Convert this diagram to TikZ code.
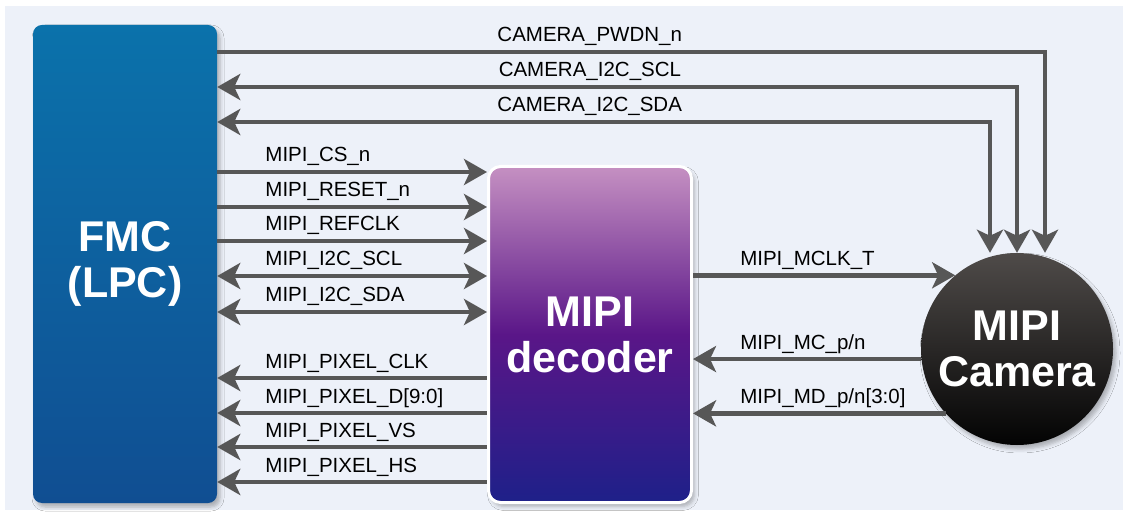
\documentclass[tikz,border=0pt]{standalone}
\usepackage{fontspec}
\setmainfont{Liberation Sans}
\setsansfont{Liberation Sans}
\usetikzlibrary{arrows.meta,calc,shadows.blur}

\definecolor{bgblue}{HTML}{EDF1F9}
\definecolor{wire}{HTML}{575757}
\definecolor{fmctop}{HTML}{0B72AB}
\definecolor{fmcbot}{HTML}{104E92}
\definecolor{dectop}{HTML}{C590C2}
\definecolor{decmid}{HTML}{5A1688}
\definecolor{decbot}{HTML}{1E2089}
\definecolor{camtop}{HTML}{4F4B49}
\definecolor{cambot}{HTML}{030303}

\tikzset{
	>={Stealth[length=23pt, width=26pt, inset=6pt]}
}

\begin{document}
\begin{tikzpicture}[
x = 1pt, y = 1pt,
every node/.style = {
	font = \sffamily
},
block/.style = {
	text = white,
	align = center,
	font = \sffamily\bfseries\fontsize{43}{46}\selectfont,
	blur shadow = {shadow xshift=3pt, shadow yshift=-4pt, shadow blur radius=4pt, shadow opacity=28}
},
sig/.style = {
	draw = wire,
	line width = 4.5pt
},
small/.style = {
	font = \sffamily\fontsize{20.5}{24}\selectfont,
	inner sep = 0pt
}
]

% canvas
\fill[white] (0,0) rectangle (1123,514);
\fill[bgblue] (5,4) rectangle (1123,508);
\useasboundingbox (0,0) rectangle (1123,514);

\node[block, minimum width=184pt, minimum height=478pt, rounded corners=9pt,
	top color=fmctop, bottom color=fmcbot] 						(fmc)	at (125,250)	{FMC\\(LPC)};
\node[block, draw=white, line width=3pt, minimum width=203pt, minimum height=336pt, rounded corners=12pt,
	top color=dectop, bottom color=decbot, middle color=decmid] (dec)	at (590,179.5)	{MIPI\\decoder};
\node[block, circle, inner sep=0pt, minimum size=192pt,
	top color=camtop, bottom color=cambot] 						(cam)	at (1017,165)	{MIPI\\Camera};

% FMC <-> camera
\draw[sig, ->] (fmc.east |- 0,462) -| node[small, pos=0.225, anchor=base, yshift=10pt] (l-pwdn) {CAMERA\_PWDN\_n} ([xshift=28pt]cam.north);
\draw[sig, <->] (fmc.east |- 0,427) -| node[small, pos=0.233, anchor=base, yshift=10pt] (l-scl) {CAMERA\_I2C\_SCL} (cam.north);
\draw[sig, <->] (fmc.east |- 0,392) -| node[small, pos=0.241, anchor=base, yshift=10pt] (l-sda) {CAMERA\_I2C\_SDA} ([xshift=-27pt]cam.north);

% FMC -> decoder
\draw[sig, ->] (fmc.east |- 0,342) -- node[small, pos=0, anchor=base west, xshift=46pt, yshift=10pt] (l-cs) {MIPI\_CS\_n} (dec.west |- 0,342);
\draw[sig, ->] (fmc.east |- 0,307) -- node[small, pos=0, anchor=base west, xshift=46pt, yshift=10pt] (l-rst) {MIPI\_RESET\_n} (dec.west |- 0,307);
\draw[sig, ->] (fmc.east |- 0,273) -- node[small, pos=0, anchor=base west, xshift=46pt, yshift=10pt] (l-ref) {MIPI\_REFCLK} (dec.west |- 0,273);
\draw[sig, <->] (fmc.east |- 0,238) -- node[small, pos=0, anchor=base west, xshift=46pt, yshift=10pt] (l-iscl) {MIPI\_I2C\_SCL} (dec.west |- 0,238);
\draw[sig, <->] (fmc.east |- 0,202) -- node[small, pos=0, anchor=base west, xshift=46pt, yshift=10pt] (l-isda) {MIPI\_I2C\_SDA} (dec.west |- 0,202);

% decoder -> FMC
\draw[sig, <-] (fmc.east |- 0,136) -- node[small, pos=0, anchor=base west, xshift=46pt, yshift=10pt] (l-pclk) {MIPI\_PIXEL\_CLK} (dec.west |- 0,136);
\draw[sig, <-] (fmc.east |- 0,101) -- node[small, pos=0, anchor=base west, xshift=46pt, yshift=10pt] (l-pd) {MIPI\_PIXEL\_D[9:0]} (dec.west |- 0,101);
\draw[sig, <-] (fmc.east |- 0,67) -- node[small, pos=0, anchor=base west, xshift=46pt, yshift=10pt] (l-vs) {MIPI\_PIXEL\_VS} (dec.west |- 0,67);
\draw[sig, <-] (fmc.east |- 0,32) -- node[small, pos=0, anchor=base west, xshift=46pt, yshift=10pt] (l-hs) {MIPI\_PIXEL\_HS} (dec.west |- 0,32);

% decoder <-> camera
\draw[sig, ->] (dec.east |- cam.130) -- node[small, pos=0, anchor=base west, xshift=45pt, yshift=10pt] (l-mclk) {MIPI\_MCLK\_T} (cam.130);
\draw[sig, <-] (dec.east |- cam.186) -- node[small, pos=0, anchor=base west, xshift=45pt, yshift=10pt] (l-mc) {MIPI\_MC\_p/n} (cam.186);
\draw[sig, <-] (dec.east |- cam.222) -- node[small, pos=0, anchor=base west, xshift=45pt, yshift=10pt] (l-md) {MIPI\_MD\_p/n[3:0]} (cam.222);
\end{tikzpicture}
\end{document}
